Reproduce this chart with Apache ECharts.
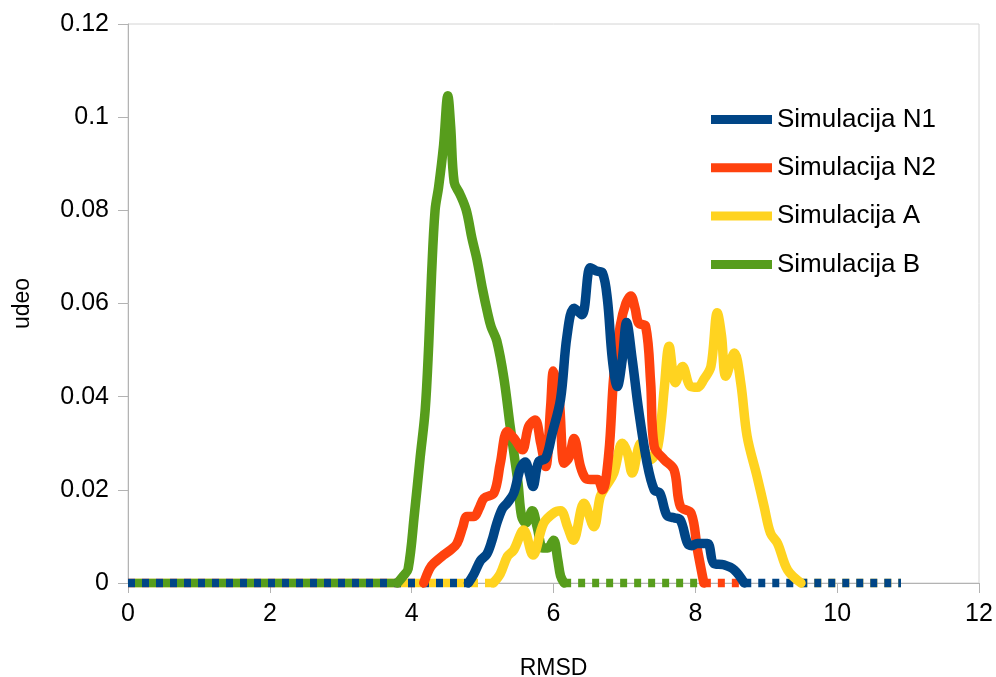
<!DOCTYPE html>
<html>
<head>
<meta charset="utf-8">
<script src="https://cdn.jsdelivr.net/npm/echarts@6/dist/echarts.min.js"></script>
<style>
html,body{margin:0;padding:0;background:#fff;}
#chart{width:996px;height:677px;}
</style>
</head>
<body>
<div id="chart"></div>
<script>
// podaci [RMSD, udeo]
var n1Points = [[4.8,0],[4.88,0.002],[4.97,0.0048],[5.06,0.0062],[5.13,0.009],[5.2,0.0128],[5.28,0.016],[5.35,0.0172],[5.44,0.0193],[5.53,0.0245],[5.6,0.026],[5.66,0.0235],[5.71,0.0207],[5.79,0.026],[5.89,0.0268],[5.98,0.032],[6.1,0.0395],[6.19,0.053],[6.29,0.059],[6.4,0.0576],[6.52,0.0677],[6.6,0.067],[6.69,0.0666],[6.76,0.0609],[6.83,0.048],[6.9,0.0422],[6.97,0.048],[7.03,0.0559],[7.11,0.048],[7.2,0.0372],[7.32,0.0257],[7.42,0.02],[7.5,0.0193],[7.6,0.0145],[7.7,0.014],[7.79,0.0135],[7.89,0.0085],[7.95,0.008],[8.03,0.0085],[8.17,0.0085],[8.26,0.0042],[8.4,0.0039],[8.55,0.0028],[8.69,0]];
var n2Points = [[4.17,0],[4.25,0.003],[4.31,0.0042],[4.45,0.006],[4.55,0.0071],[4.64,0.0085],[4.72,0.012],[4.78,0.0143],[4.88,0.0143],[4.95,0.016],[5.02,0.0182],[5.16,0.0193],[5.25,0.0257],[5.35,0.0325],[5.46,0.0307],[5.56,0.0286],[5.65,0.0336],[5.74,0.035],[5.82,0.03],[5.89,0.025],[5.96,0.038],[6.0,0.0455],[6.08,0.0394],[6.15,0.0257],[6.22,0.027],[6.29,0.031],[6.38,0.025],[6.45,0.0225],[6.52,0.0222],[6.62,0.0222],[6.69,0.02],[6.78,0.0279],[6.85,0.0444],[6.94,0.0551],[7.02,0.06],[7.09,0.0616],[7.15,0.059],[7.2,0.0558],[7.3,0.0551],[7.37,0.043],[7.42,0.0293],[7.56,0.0265],[7.7,0.0243],[7.79,0.0164],[7.94,0.015],[8.03,0.0071],[8.12,0]];
var aPoints = [[5.15,0],[5.25,0.002],[5.35,0.0057],[5.44,0.0071],[5.58,0.0114],[5.71,0.006],[5.86,0.0128],[6.0,0.015],[6.1,0.0155],[6.2,0.012],[6.28,0.0092],[6.43,0.0171],[6.57,0.0121],[6.66,0.0186],[6.75,0.021],[6.85,0.0236],[6.97,0.030],[7.04,0.028],[7.11,0.0236],[7.23,0.030],[7.3,0.028],[7.37,0.0265],[7.46,0.0286],[7.52,0.035],[7.56,0.0415],[7.63,0.0508],[7.72,0.043],[7.82,0.0465],[7.93,0.0422],[8.03,0.042],[8.12,0.0437],[8.22,0.0465],[8.31,0.058],[8.37,0.053],[8.43,0.0444],[8.55,0.0494],[8.64,0.043],[8.73,0.0315],[8.87,0.0229],[8.97,0.0164],[9.06,0.0107],[9.16,0.0085],[9.3,0.0028],[9.49,0]];
var bPoints = [[3.8,0],[3.88,0.0015],[3.95,0.003],[4.04,0.015],[4.12,0.027],[4.19,0.037],[4.24,0.051],[4.28,0.066],[4.33,0.08],[4.38,0.085],[4.45,0.094],[4.51,0.1046],[4.55,0.098],[4.6,0.086],[4.68,0.0835],[4.77,0.08],[4.85,0.074],[4.92,0.0695],[5.0,0.063],[5.07,0.058],[5.12,0.055],[5.2,0.052],[5.3,0.044],[5.39,0.0335],[5.45,0.027],[5.5,0.0214],[5.55,0.0143],[5.61,0.0129],[5.7,0.0155],[5.77,0.012],[5.85,0.0075],[5.92,0.0075],[6.0,0.0092],[6.06,0.005],[6.1,0.0015],[6.15,0]];
// delovi gde je udeo 0 (tackasta linija)
var n1Zero = [[0,4.8],[8.69,10.9]];
var n2Zero = [[0,4.17],[8.12,8.69]];
var aZero = [[0,5.15],[9.49,10.9]];
var bZero = [[0,3.8],[6.15,8.05]];
var xTicks = [0,2,4,6,8,10,12];
var yTicks = [0,0.02,0.04,0.06,0.08,0.1,0.12];

var names = ['Simulacija N1','Simulacija N2','Simulacija A','Simulacija B'];
var colors = ['#004586','#ff420e','#ffd320','#579d1c'];
var points = [n1Points,n2Points,aPoints,bPoints];
var zeros = [n1Zero,n2Zero,aZero,bZero];
var zOrder = [8,7,6,5];
var zZero = [4,3,3,4];
// pomeraj crtica za svaki tackasti deo (levi, desni)
var dashOff = [[0,0],[0,0],[7,0.7],[7,0]];

var series = [];
// pune linije
for(var i=0;i<4;i++){
	series.push({
		name:names[i],
		type:'line',
		data:points[i],
		smooth:0.35,
		showSymbol:false,
		symbol:'none',
		clip:false,
		z:zOrder[i],
		itemStyle:{color:colors[i]},
		lineStyle:{color:colors[i],width:9.5,cap:'round',join:'round'}
	});
}
// tackasti delovi na nuli
for(var i=0;i<4;i++){
	for(var k=0;k<zeros[i].length;k++){
		series.push({
			name:names[i],
			type:'line',
			data:[[zeros[i][k][0],0],[zeros[i][k][1],0]],
			symbol:'none',
			clip:false,
			z:zZero[i],
			itemStyle:{color:colors[i]},
			lineStyle:{color:colors[i],width:8.5,type:[7,7],dashOffset:dashOff[i][k],cap:'butt'}
		});
	}
}

var chart = echarts.init(document.getElementById('chart'));
var option = {
	animation:false,
	backgroundColor:'#fff',
	textStyle:{fontFamily:'Liberation Sans, Arial, sans-serif'},
	grid:{
		left:128,
		right:17,
		top:24,
		bottom:94,
		containLabel:false,
		outerBoundsMode:'none',
		show:true,
		borderColor:'#d4d4d4',
		borderWidth:1
	},
	legend:{
		data:names,
		orient:'vertical',
		left:706,
		top:101.5,
		icon:'rect',
		itemWidth:61,
		itemHeight:9,
		itemGap:22.3,
		textStyle:{fontSize:26,color:'#000'}
	},
	xAxis:{
		type:'value',
		min:xTicks[0],
		max:xTicks[xTicks.length-1],
		interval:2,
		name:'RMSD',
		nameLocation:'middle',
		nameGap:74,
		nameTextStyle:{fontSize:23,color:'#000'},
		axisLine:{lineStyle:{color:'#b3b3b3',width:1}},
		axisTick:{show:true,length:10,lineStyle:{color:'#b3b3b3'}},
		axisLabel:{fontSize:25,color:'#000',margin:19},
		splitLine:{show:false}
	},
	yAxis:{
		type:'value',
		min:yTicks[0],
		max:yTicks[yTicks.length-1],
		interval:0.02,
		name:'udeo',
		nameLocation:'middle',
		nameGap:94,
		nameTextStyle:{fontSize:23,color:'#000'},
		axisLine:{show:true,lineStyle:{color:'#b3b3b3',width:1}},
		axisTick:{show:true,length:10,lineStyle:{color:'#b3b3b3'}},
		axisLabel:{fontSize:25,color:'#000',margin:19},
		splitLine:{show:false}
	},
	series:series
};
chart.setOption(option);
</script>
</body>
</html>
